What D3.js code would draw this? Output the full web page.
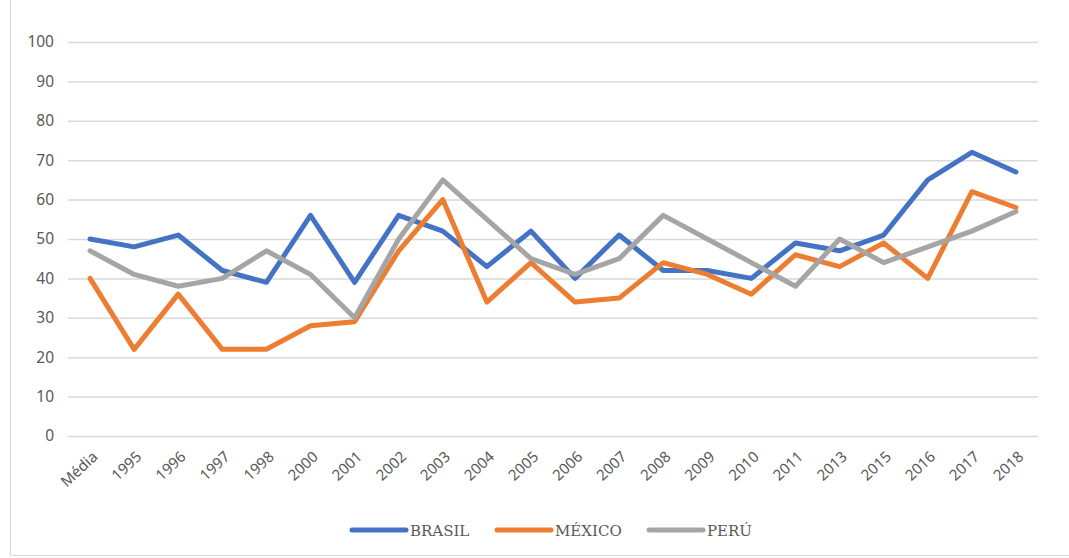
<!DOCTYPE html>
<html lang="pt">
<head>
    <meta charset="UTF-8">
    <script src="https://cdn.jsdelivr.net/npm/d3@7"></script>
    <style>
        body { margin: 0; background: #fff; }
        .legend text { font-family: 'DejaVu Serif', 'Liberation Serif', serif; font-size: 15px; fill: #595959; }
    </style>
</head>
<body>
<div id="chart"></div>
<script>
    // Chart data
    const categories = ["Média", "1995", "1996", "1997", "1998", "2000", "2001", "2002", "2003", "2004", "2005",
        "2006", "2007", "2008", "2009", "2010", "2011", "2013", "2015", "2016", "2017", "2018"];
    const brasil = [50, 48, 51, 42, 39, 56, 39, 56, 52, 43, 52, 40, 51, 42, 42, 40, 49, 47, 51, 65, 72, 67];
    const mexico = [40, 22, 36, 22, 22, 28, 29, 47, 60, 34, 44, 34, 35, 44, 41, 36, 46, 43, 49, 40, 62, 58];
    const peru = [47, 41, 38, 40, 47, 41, 30, 50, 65, 55, 45, 41, 45, 56, 50, 44, 38, 50, 44, 48, 52, 57];
    const yTicks = [0, 10, 20, 30, 40, 50, 60, 70, 80, 90, 100];

    const series = [
        { name: "BRASIL", values: brasil, color: "#4472C4" },
        { name: "MÉXICO", values: mexico, color: "#ED7D31" },
        { name: "PERÚ", values: peru, color: "#A5A5A5" }
    ];

    const width = 1069, height = 558;
    const margin = { top: 42, right: 31, bottom: 122, left: 68 };

    const svg = d3.select("#chart").append("svg")
        .attr("width", width)
        .attr("height", height);

    // outer chart frame
    svg.append("rect")
        .attr("x", 10.5).attr("y", -2)
        .attr("width", width + 10).attr("height", height - 0.5)
        .attr("fill", "none")
        .attr("stroke", "#d9d9d9");

    const x = d3.scalePoint()
        .domain(categories)
        .range([margin.left, width - margin.right])
        .padding(0.5);

    const y = d3.scaleLinear()
        .domain([0, 100])
        .range([height - margin.bottom, margin.top]);

    // gridlines + y labels
    const yAxis = svg.append("g")
        .attr("transform", `translate(${margin.left},0)`)
        .call(d3.axisLeft(y).tickValues(yTicks).tickSize(-(width - margin.left - margin.right)).tickPadding(14));
    yAxis.select(".domain").remove();
    yAxis.selectAll(".tick line").attr("stroke", "#d9d9d9").attr("stroke-width", 1.5);
    yAxis.selectAll(".tick text")
        .attr("fill", "#595959")
        .style("font-family", "'Noto Sans', sans-serif")
        .style("font-size", "15.5px");

    // x labels
    const xAxis = svg.append("g")
        .attr("transform", `translate(0,${height - margin.bottom})`)
        .call(d3.axisBottom(x).tickSize(0).tickPadding(0));
    xAxis.select(".domain").remove();
    xAxis.selectAll(".tick text")
        .attr("fill", "#595959")
        .style("font-family", "'Noto Sans', sans-serif")
        .style("font-size", "15px")
        .attr("text-anchor", "end")
        .attr("dy", null)
        .attr("y", 0)
        .attr("transform", "translate(8,22) rotate(-43)");

    // lines
    const line = d3.line()
        .x((d, i) => x(categories[i]))
        .y(d => y(d));

    svg.selectAll("path.series")
        .data(series)
        .enter()
        .append("path")
        .attr("class", "series")
        .attr("d", d => line(d.values))
        .attr("fill", "none")
        .attr("stroke", d => d.color)
        .attr("stroke-width", 5)
        .attr("stroke-linejoin", "round")
        .attr("stroke-linecap", "round");

    // legend
    const legendX = [352, 497, 649];
    const legend = svg.append("g").attr("class", "legend");
    const items = legend.selectAll("g")
        .data(series)
        .enter()
        .append("g")
        .attr("transform", (d, i) => `translate(${legendX[i]},530)`);
    items.append("line")
        .attr("x1", 0).attr("x2", 54)
        .attr("stroke", d => d.color)
        .attr("stroke-width", 5)
        .attr("stroke-linecap", "round");
    items.append("text")
        .attr("x", 58)
        .attr("y", 5.5)
        .text(d => d.name);
</script>
</body>
</html>
